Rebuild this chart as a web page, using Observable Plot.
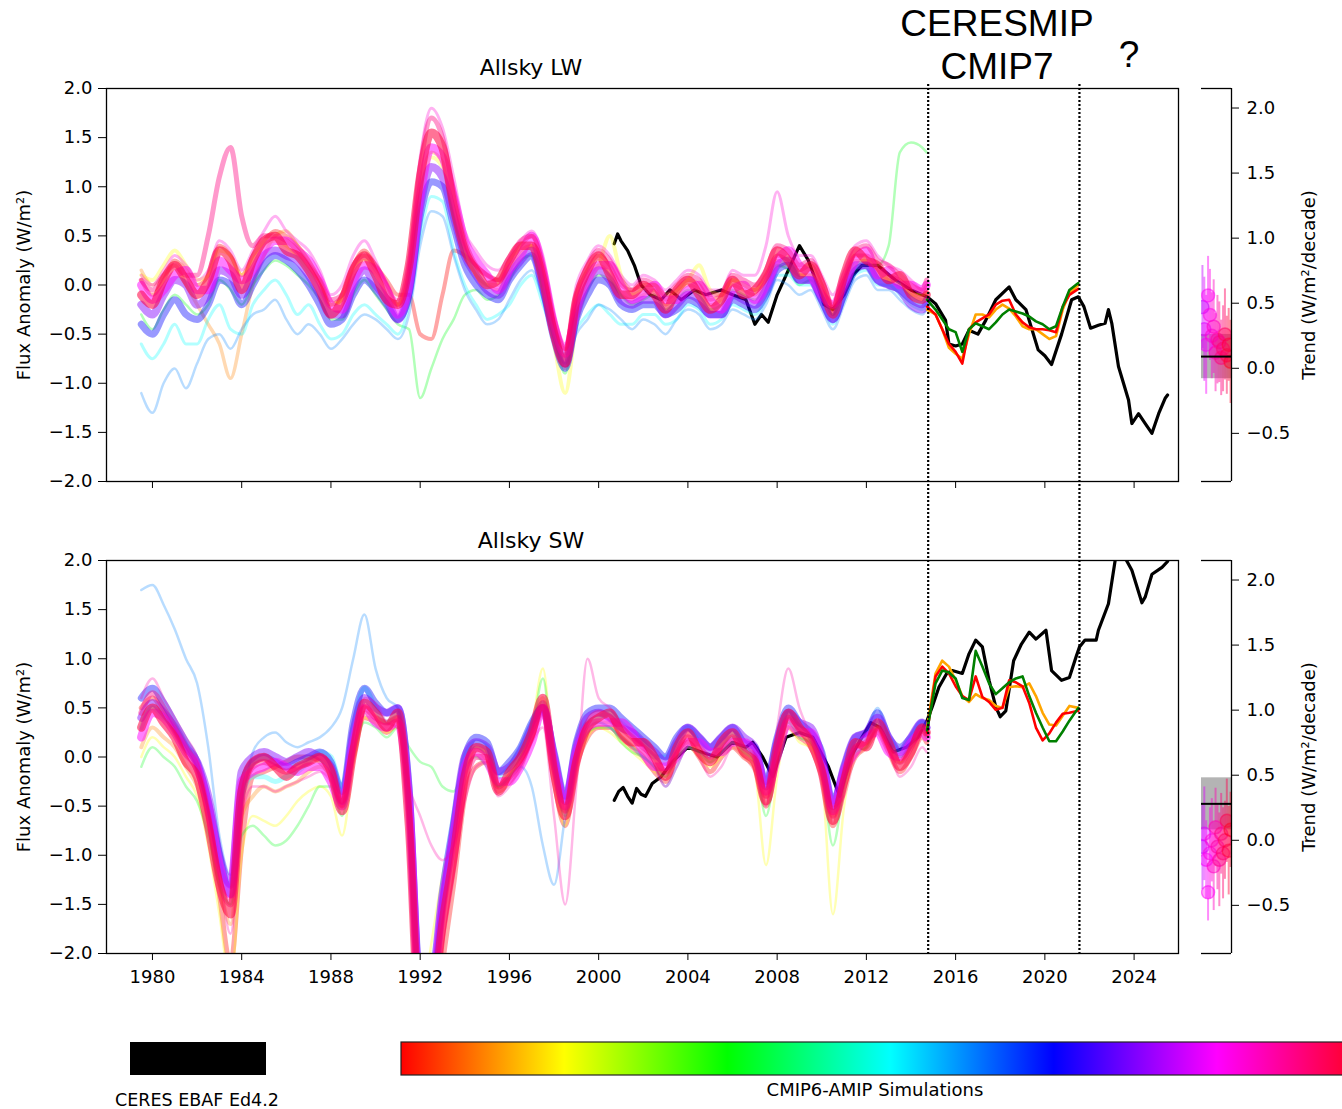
<!DOCTYPE html>
<html><head><meta charset="utf-8">
<script src="https://cdn.jsdelivr.net/npm/d3@7"></script>
<script src="https://cdn.jsdelivr.net/npm/@observablehq/plot@0.6"></script>
<style>
body{margin:0;background:#fff;}
#wrap{position:relative;width:1342px;height:1109px;overflow:hidden;background:#fff;}
#wrap svg{position:absolute;}
</style></head><body><div id="wrap"></div>
<script>
// ---------- time grid of the CMIP6-AMIP ensemble (12-month running means) ----------
const T = [1979.5,1980,1980.5,1981,1981.5,1982,1982.5,1983,1983.5,1984,
1984.5,1985,1985.5,1986,1986.5,1987,1987.5,1988,1988.5,1989,
1989.5,1990,1990.5,1991,1991.5,1992,1992.5,1993,1993.5,1994,
1994.5,1995,1995.5,1996,1996.5,1997,1997.5,1998,1998.5,1999,
1999.5,2000,2000.5,2001,2001.5,2002,2002.5,2003,2003.5,2004,
2004.5,2005,2005.5,2006,2006.5,2007,2007.5,2008,2008.5,2009,
2009.5,2010,2010.5,2011,2011.5,2012,2012.5,2013,2013.5,2014,
2014.5,2014.7];

// ---------- Allsky LW ensemble members ----------
const lwRed = [0.05,-0.1,0.05,0.25,0.15,0.0,0.1,0.4,0.3,0.1,
0.3,0.45,0.55,0.5,0.4,0.25,0.05,-0.2,-0.1,0.2,
0.35,0.2,0.05,-0.1,-0.1,-0.5,-0.55,-0.1,0.35,0.3,
0.2,0.1,0.05,0.25,0.4,0.5,0.2,-0.4,-0.65,-0.1,
0.15,0.3,0.2,0.0,-0.05,0.0,0.0,-0.15,-0.05,0.05,
0.0,-0.15,-0.1,0.05,0.0,-0.05,0.1,0.3,0.25,0.15,
0.2,0.0,-0.25,0.05,0.3,0.3,0.2,0.1,0.05,-0.05,
-0.1,-0.05];
const lwOrange = [0.15,0.0,0.1,0.2,0.0,-0.2,-0.4,-0.6,-0.95,-0.5,
0.0,0.3,0.5,0.55,0.4,0.25,0.05,-0.2,-0.15,0.15,
0.3,0.15,0.0,-0.2,0.15,1.0,1.35,1.25,0.7,0.35,
0.1,0.0,-0.05,0.15,0.35,0.4,0.05,-0.5,-0.85,-0.25,
0.05,0.2,0.1,-0.1,-0.15,-0.1,-0.05,-0.2,-0.1,0.0,
-0.05,-0.2,-0.15,0.0,-0.05,-0.1,0.05,0.25,0.2,0.1,
0.1,-0.05,-0.3,0.0,0.25,0.25,0.15,0.05,0.0,-0.1,
-0.15,-0.1];
const lwYellow = [0.1,0.05,0.2,0.35,0.2,0.05,0.1,0.35,0.3,0.1,
0.25,0.4,0.45,0.4,0.3,0.15,0.0,-0.2,-0.15,0.1,
0.25,0.1,-0.05,-0.2,0.1,0.9,1.3,1.2,0.75,0.3,
0.1,0.0,0.0,0.15,0.3,0.4,0.0,-0.6,-1.1,-0.4,
0.0,0.2,0.5,0.1,-0.1,-0.05,0.0,-0.1,-0.05,0.05,
0.2,-0.05,-0.1,0.05,0.0,-0.05,0.05,0.2,0.2,0.1,
0.1,-0.1,-0.25,0.05,0.2,0.25,0.1,0.05,0.0,-0.1,
-0.1,-0.05];
const lwGreen = [-0.3,-0.45,-0.25,-0.1,-0.2,-0.3,-0.2,0.05,-0.05,-0.2,
0.0,0.15,0.25,0.2,0.1,0.0,-0.15,-0.35,-0.35,-0.1,
0.05,-0.1,-0.25,-0.4,-0.45,-1.15,-0.85,-0.55,-0.35,-0.1,
-0.05,-0.15,-0.1,0.05,0.25,0.3,-0.05,-0.55,-0.9,-0.35,
-0.05,0.1,0.05,-0.1,-0.2,-0.15,-0.1,-0.25,-0.15,-0.05,
-0.1,-0.25,-0.2,-0.05,-0.1,-0.15,0.0,0.2,0.15,0.0,
0.05,-0.1,-0.3,-0.05,0.15,0.2,0.2,0.4,1.35,1.45,
1.4,1.35];
const lwCyan = [-0.6,-0.75,-0.6,-0.4,-0.6,-0.6,-0.35,-0.2,-0.45,-0.5,
-0.2,-0.05,0.05,-0.1,-0.3,-0.2,-0.4,-0.55,-0.5,-0.3,
-0.2,-0.3,-0.4,-0.5,-0.2,0.5,0.9,0.85,0.35,0.0,
-0.2,-0.35,-0.3,-0.2,0.0,0.1,-0.2,-0.5,-0.7,-0.45,
-0.3,-0.2,-0.3,-0.4,-0.4,-0.3,-0.3,-0.4,-0.35,-0.2,
-0.25,-0.4,-0.35,-0.2,-0.25,-0.3,-0.15,0.1,0.1,0.0,
0.0,-0.2,-0.4,-0.15,0.1,0.15,0.0,0.0,-0.1,-0.2,
-0.25,-0.2];
const lwAzure = [-1.1,-1.3,-1.0,-0.85,-1.05,-0.8,-0.55,-0.5,-0.65,-0.45,
-0.3,-0.25,-0.15,-0.35,-0.5,-0.4,-0.5,-0.65,-0.55,-0.4,
-0.3,-0.35,-0.45,-0.55,-0.3,0.4,0.75,0.7,0.3,-0.05,
-0.25,-0.4,-0.35,-0.15,0.05,0.15,-0.15,-0.55,-0.8,-0.5,
-0.35,-0.2,-0.25,-0.35,-0.45,-0.35,-0.4,-0.5,-0.35,-0.25,
-0.3,-0.45,-0.4,-0.25,-0.3,-0.35,-0.2,0.05,0.0,-0.1,
-0.05,-0.25,-0.45,-0.2,0.05,0.1,-0.05,-0.05,-0.15,-0.25,
-0.3,-0.25];
const lwBlue = [-0.4,-0.5,-0.3,-0.15,-0.3,-0.35,-0.2,0.05,0.0,-0.2,
0.0,0.2,0.3,0.25,0.15,0.0,-0.2,-0.4,-0.35,-0.1,
0.05,-0.05,-0.2,-0.35,-0.1,0.7,1.05,1.0,0.6,0.2,
0.0,-0.1,-0.15,0.05,0.2,0.3,-0.05,-0.55,-0.85,-0.35,
-0.1,0.05,0.0,-0.2,-0.25,-0.2,-0.2,-0.3,-0.25,-0.15,
-0.2,-0.3,-0.3,-0.15,-0.2,-0.25,-0.1,0.15,0.2,0.05,
0.05,-0.15,-0.35,-0.1,0.15,0.2,0.05,0.0,-0.05,-0.15,
-0.2,-0.15];
const lwViolet = [-0.2,-0.3,-0.1,0.05,0.0,-0.2,-0.1,0.15,0.1,-0.1,
0.1,0.3,0.35,0.3,0.25,0.1,-0.1,-0.3,-0.3,0.0,
0.15,0.0,-0.15,-0.35,-0.05,0.8,1.2,1.1,0.7,0.3,
0.1,-0.05,-0.1,0.1,0.25,0.35,0.0,-0.5,-0.8,-0.3,
0.0,0.15,0.05,-0.15,-0.2,-0.15,-0.15,-0.3,-0.2,-0.1,
-0.15,-0.3,-0.3,-0.1,-0.15,-0.2,-0.05,0.2,0.25,0.05,
0.05,-0.15,-0.35,-0.05,0.2,0.2,0.05,0.0,-0.05,-0.2,
-0.25,-0.2];
const lwMagenta = [0.0,-0.15,-0.05,0.1,0.15,-0.05,-0.05,0.25,0.15,0.05,
0.15,0.35,0.45,0.45,0.35,0.25,0.05,-0.2,-0.25,0.05,
0.2,0.15,-0.05,-0.3,0.0,0.9,1.4,1.3,0.9,0.45,
0.25,0.1,-0.05,0.15,0.3,0.5,0.15,-0.4,-0.7,-0.25,
0.05,0.2,0.2,0.0,-0.15,-0.1,0.0,-0.15,-0.15,-0.05,
0.0,-0.15,-0.25,-0.05,0.0,-0.15,0.0,0.25,0.35,0.2,
0.1,-0.1,-0.2,0.0,0.25,0.35,0.1,0.15,0.0,0.0,
-0.05,0.0];
const lwOrchid = [0.1,0.0,0.15,0.3,0.2,0.05,0.15,0.45,0.35,0.15,
0.35,0.55,0.7,0.55,0.45,0.35,0.15,-0.1,0.0,0.3,
0.45,0.25,0.0,-0.15,0.3,1.3,1.8,1.6,1.1,0.55,
0.35,0.2,0.15,0.3,0.45,0.55,0.3,-0.3,-0.6,0.0,
0.25,0.4,0.3,0.1,0.0,0.1,0.05,-0.05,0.05,0.15,
0.1,-0.05,-0.05,0.15,0.1,0.1,0.4,0.95,0.5,0.3,
0.3,0.1,-0.1,0.15,0.4,0.45,0.3,0.2,0.15,0.05,
-0.05,0.0];
const lwPink = [0.05,-0.05,0.1,0.2,0.1,0.1,0.5,1.1,1.4,0.7,
0.4,0.5,0.5,0.45,0.35,0.2,0.05,-0.15,-0.1,0.2,
0.3,0.2,0.0,-0.2,0.2,1.2,1.7,1.5,0.95,0.45,
0.2,0.1,0.05,0.25,0.45,0.5,0.2,-0.35,-0.65,-0.1,
0.2,0.35,0.25,0.05,-0.05,0.05,0.0,-0.1,0.0,0.1,
0.05,-0.1,-0.1,0.1,0.05,0.0,0.15,0.4,0.35,0.2,
0.25,0.05,-0.2,0.1,0.35,0.4,0.25,0.2,0.1,0.0,
-0.05,0.05];
const lwCrimson = [-0.1,-0.2,0.05,0.2,0.05,-0.1,0.05,0.35,0.25,-0.05,
0.25,0.45,0.5,0.35,0.3,0.15,-0.05,-0.3,-0.15,0.15,
0.3,0.1,-0.15,-0.2,0.2,1.1,1.55,1.4,0.8,0.35,
0.15,0.0,0.05,0.25,0.4,0.4,0.05,-0.5,-0.8,-0.15,
0.15,0.3,0.1,-0.1,-0.1,0.0,-0.1,-0.25,-0.05,0.05,
-0.1,-0.25,-0.15,0.05,-0.1,-0.05,0.1,0.35,0.25,0.1,
0.2,0.0,-0.3,0.1,0.35,0.25,0.2,0.05,0.1,-0.1,
-0.15,-0.1];

// ---------- Allsky SW ensemble members ----------
const swRed = [0.5,0.6,0.45,0.25,0.05,-0.15,-0.6,-1.4,-2.1,-0.9,
-0.2,-0.15,-0.1,-0.05,0.0,0.0,-0.05,-0.2,-0.5,0.0,
0.4,0.35,0.25,0.35,-0.5,-2.6,-2.8,-2.1,-1.3,-0.4,
-0.1,-0.05,-0.35,-0.25,-0.1,0.2,0.45,-0.25,-0.7,-0.1,
0.2,0.3,0.3,0.2,0.1,0.0,-0.15,-0.25,0.0,0.15,
0.0,-0.15,0.0,0.1,0.0,-0.1,-0.5,-0.05,0.3,0.2,
0.1,-0.2,-0.7,-0.3,0.0,0.1,0.25,0.05,-0.15,0.0,
0.2,0.15];
const swOrange = [0.1,0.3,0.2,0.1,-0.1,-0.3,-0.7,-1.3,-1.7,-0.6,
-0.4,-0.3,-0.35,-0.3,-0.25,-0.15,-0.1,-0.2,-0.5,0.0,
0.45,0.4,0.35,0.4,-0.6,-2.5,-2.4,-1.6,-0.9,-0.2,
0.1,0.05,-0.3,-0.15,0.05,0.3,0.6,-0.1,-0.55,0.0,
0.25,0.35,0.35,0.2,0.1,0.05,-0.1,-0.15,0.05,0.15,
0.05,-0.05,0.05,0.15,0.05,-0.05,-0.4,0.0,0.35,0.25,
0.15,-0.1,-0.6,-0.2,0.1,0.15,0.3,0.1,-0.05,0.1,
0.25,0.2];
const swYellow = [0.0,0.2,0.1,0.0,-0.2,-0.4,-0.9,-1.6,-2.3,-1.0,
-0.6,-0.65,-0.7,-0.6,-0.45,-0.35,-0.3,-0.4,-0.8,-0.1,
0.4,0.35,0.25,0.3,-0.8,-2.6,-1.9,-1.2,-0.7,-0.1,
0.05,-0.05,-0.3,-0.2,0.0,0.3,0.9,-0.2,-0.7,-0.1,
0.2,0.3,0.25,0.15,0.05,-0.05,-0.15,-0.2,0.0,0.1,
0.0,-0.1,0.0,0.1,0.0,-0.15,-1.1,-0.2,0.3,0.15,
0.1,-0.2,-1.6,-0.5,0.0,0.1,0.3,0.1,-0.05,0.1,
0.3,0.25];
const swGreen = [-0.1,0.1,0.0,-0.1,-0.3,-0.45,-0.8,-1.3,-1.5,-0.8,
-0.7,-0.8,-0.9,-0.85,-0.7,-0.5,-0.3,-0.3,-0.6,0.0,
0.35,0.3,0.2,0.3,0.1,-0.05,-0.1,-0.3,-0.35,-0.1,
0.0,-0.1,-0.3,-0.2,0.0,0.25,0.8,-0.15,-0.6,-0.05,
0.25,0.3,0.3,0.15,0.05,0.0,-0.1,-0.2,0.0,0.1,
0.05,-0.05,0.05,0.15,0.05,-0.05,-0.6,0.0,0.35,0.2,
0.15,-0.15,-0.9,-0.3,0.05,0.1,0.3,0.15,0.0,0.1,
0.3,0.25];
const swCyan = [0.3,0.5,0.4,0.3,0.1,-0.1,-0.5,-1.1,-1.3,-0.4,
-0.2,-0.2,-0.25,-0.2,-0.15,-0.05,0.05,0.0,-0.3,0.3,
0.7,0.5,0.35,0.45,-0.5,-2.4,-2.2,-1.3,-0.6,0.0,
0.15,0.1,-0.2,-0.1,0.1,0.35,0.55,0.0,-0.45,0.1,
0.35,0.4,0.45,0.35,0.25,0.15,0.0,0.0,0.15,0.3,
0.15,0.05,0.15,0.25,0.1,0.0,-0.3,0.15,0.45,0.3,
0.2,-0.05,-0.55,-0.15,0.15,0.2,0.35,0.2,0.05,0.2,
0.35,0.3];
const swAzure = [1.7,1.75,1.55,1.3,1.0,0.75,0.1,-0.8,-1.2,-0.5,
0.05,0.2,0.25,0.15,0.1,0.15,0.2,0.3,0.5,1.0,
1.45,0.9,0.6,0.5,-0.4,-2.3,-2.2,-1.3,-0.7,-0.05,
0.1,0.0,-0.3,-0.2,-0.1,-0.3,-0.9,-1.3,-0.6,0.0,
0.3,0.35,0.3,0.2,0.1,0.0,-0.1,-0.3,-0.1,0.1,
0.05,0.0,0.1,0.2,0.1,0.0,-0.3,0.1,0.4,0.25,
0.2,-0.05,-0.5,-0.15,0.1,0.25,0.5,0.2,0.0,0.15,
0.3,0.2];
const swBlue = [0.6,0.7,0.55,0.35,0.15,-0.05,-0.45,-1.0,-1.4,-0.3,
-0.05,0.0,-0.05,-0.1,-0.05,0.0,0.05,-0.05,-0.35,0.35,
0.7,0.55,0.45,0.5,-0.3,-2.3,-2.4,-1.5,-0.7,0.0,
0.2,0.15,-0.15,-0.05,0.1,0.35,0.5,0.05,-0.4,0.15,
0.45,0.5,0.5,0.4,0.3,0.2,0.1,0.0,0.2,0.3,
0.2,0.1,0.2,0.3,0.15,0.1,-0.25,0.2,0.5,0.35,
0.25,0.05,-0.45,-0.1,0.2,0.25,0.45,0.2,0.1,0.2,
0.35,0.3];
const swViolet = [0.4,0.55,0.45,0.3,0.1,-0.05,-0.4,-1.0,-1.3,-0.15,
0.0,0.05,0.0,-0.05,0.0,0.05,0.0,-0.1,-0.45,0.25,
0.6,0.5,0.45,0.5,-0.4,-2.4,-2.3,-1.4,-0.7,0.0,
0.15,0.1,-0.15,-0.1,0.05,0.3,0.5,0.0,-0.45,0.1,
0.4,0.45,0.4,0.3,0.25,0.15,0.05,-0.05,0.15,0.3,
0.2,0.1,0.2,0.3,0.2,0.1,-0.3,0.15,0.45,0.35,
0.3,0.0,-0.5,-0.1,0.2,0.25,0.4,0.2,0.05,0.2,
0.35,0.3];
const swMagenta = [0.2,0.45,0.4,0.25,0.05,-0.1,-0.5,-1.1,-1.4,-0.25,
-0.15,-0.1,-0.05,-0.1,-0.15,-0.1,-0.1,-0.25,-0.5,0.15,
0.5,0.35,0.3,0.35,-0.5,-2.5,-2.4,-1.5,-0.8,-0.1,
0.05,-0.05,-0.25,-0.25,-0.1,0.15,0.5,-0.05,-0.5,0.05,
0.3,0.35,0.35,0.35,0.25,0.05,-0.1,-0.1,0.0,0.15,
0.15,0.05,0.05,0.15,0.15,0.05,-0.35,0.0,0.35,0.25,
0.25,-0.05,-0.55,-0.15,0.05,0.2,0.25,0.05,0.0,0.15,
0.25,0.2];
const swOrchid = [0.6,0.8,0.6,0.4,0.2,0.0,-0.5,-1.2,-1.8,-0.6,
-0.3,-0.3,-0.35,-0.3,-0.25,-0.2,-0.15,-0.25,-0.5,0.0,
0.6,0.55,0.35,0.3,-0.3,-0.6,-0.9,-1.05,-0.9,-0.45,
-0.1,-0.05,-0.4,-0.3,-0.1,0.15,0.3,-0.6,-1.5,-0.3,
1.0,0.6,0.5,0.35,0.2,0.1,-0.1,-0.3,-0.1,0.1,
0.0,-0.2,-0.1,0.1,0.0,-0.15,-0.5,0.3,0.9,0.5,
0.2,-0.2,-0.5,-0.4,0.0,0.1,0.3,0.1,-0.2,-0.1,
0.1,0.05];
const swPink = [0.45,0.65,0.5,0.3,0.1,-0.1,-0.6,-1.25,-1.5,-0.45,
-0.1,-0.05,-0.1,-0.15,-0.1,-0.05,0.0,-0.1,-0.45,0.1,
0.5,0.4,0.35,0.4,-0.55,-2.6,-2.5,-1.8,-1.1,-0.3,
0.0,0.0,-0.3,-0.2,-0.05,0.2,0.55,-0.1,-0.55,0.0,
0.35,0.45,0.4,0.3,0.2,0.1,0.0,-0.15,0.05,0.2,
0.1,0.0,0.1,0.2,0.1,0.0,-0.4,0.05,0.4,0.3,
0.2,-0.1,-0.6,-0.2,0.1,0.15,0.3,0.1,-0.05,0.1,
0.3,0.25];
const swCrimson = [0.3,0.5,0.35,0.2,-0.05,-0.2,-0.7,-1.3,-1.6,-0.35,
-0.05,0.0,-0.1,-0.2,-0.1,-0.05,0.0,-0.15,-0.55,0.05,
0.55,0.45,0.3,0.45,-0.7,-2.7,-2.6,-1.7,-1.0,-0.2,
0.1,0.05,-0.35,-0.15,0.0,0.25,0.6,-0.15,-0.6,-0.05,
0.3,0.4,0.45,0.25,0.15,0.15,0.0,-0.2,0.1,0.25,
0.05,-0.05,0.15,0.25,0.05,-0.05,-0.45,0.1,0.45,0.3,
0.15,-0.15,-0.65,-0.25,0.15,0.1,0.35,0.15,-0.1,0.05,
0.3,0.25];

// ---------- CERES EBAF Ed4.2 (black) ----------
const ceresLwT = [2000.7,2000.85,2001.0,2001.3,2001.6,2001.9,2002.3,2002.8,2003.2,2003.7,2004.3,2004.8,2005.5,2006.0,2006.6,2007.0,2007.3,2007.6,2008.0,2008.6,2009.0,2009.4,2009.8,2010.1,2010.5,2011.0,2011.4,2011.8,2012.5,2013.3,2014.0,2014.72,2015.1,2015.55,2015.7,2016.0,2016.3,2016.6,2017.0,2017.35,2017.8,2018.4,2018.7,2019.15,2019.7,2020.0,2020.3,2020.75,2021.2,2021.5,2021.75,2022.05,2022.4,2022.7,2022.85,2023.0,2023.3,2023.75,2023.9,2024.2,2024.5,2024.8,2025.1,2025.4,2025.5];
const ceresLw = [0.42,0.52,0.45,0.35,0.2,0.0,-0.1,-0.15,-0.05,-0.15,-0.05,-0.1,-0.05,-0.1,-0.15,-0.4,-0.3,-0.38,-0.1,0.2,0.4,0.25,0.0,-0.2,-0.25,-0.1,0.1,0.2,0.2,0.05,-0.05,-0.12,-0.19,-0.36,-0.6,-0.62,-0.6,-0.46,-0.5,-0.36,-0.15,-0.02,-0.15,-0.25,-0.66,-0.72,-0.81,-0.5,-0.15,-0.12,-0.22,-0.44,-0.41,-0.39,-0.25,-0.39,-0.83,-1.17,-1.41,-1.31,-1.41,-1.51,-1.31,-1.15,-1.12];
const ceresSwT = [2000.7,2000.9,2001.1,2001.3,2001.5,2001.7,2001.9,2002.1,2002.4,2002.8,2003.3,2004.0,2004.6,2005.3,2006.0,2006.6,2006.9,2007.35,2007.8,2008.4,2009.0,2009.6,2010.3,2010.8,2011.3,2011.8,2012.2,2012.6,2013.2,2013.8,2014.3,2014.72,2014.95,2015.25,2015.6,2015.85,2016.3,2016.6,2016.9,2017.2,2017.5,2017.8,2018.0,2018.25,2018.6,2018.95,2019.3,2019.6,2020.05,2020.3,2020.75,2021.1,2021.4,2021.55,2021.8,2022.3,2022.4,2022.85,2023.15,2023.3,2023.9,2024.35,2024.5,2024.8,2025.25,2025.5];
const ceresSw = [-0.44,-0.35,-0.31,-0.4,-0.47,-0.32,-0.38,-0.4,-0.27,-0.2,-0.05,0.1,0.05,0.0,0.15,0.1,0.15,0.0,-0.2,0.2,0.25,0.2,-0.1,-0.4,0.0,0.2,0.35,0.3,0.05,0.1,0.2,0.37,0.51,0.71,0.85,0.88,0.85,1.05,1.19,1.12,0.78,0.51,0.41,0.47,0.98,1.15,1.27,1.2,1.29,0.88,0.78,0.81,1.02,1.12,1.19,1.19,1.29,1.56,2.0,2.15,1.9,1.57,1.63,1.86,1.93,1.99];

// ---------- CERESMIP / CMIP7 runs ----------
const cmT = [2014.72,2015.1,2015.4,2015.7,2016.0,2016.3,2016.6,2016.9,2017.2,2017.5,2017.8,2018.1,2018.4,2018.7,2019.0,2019.3,2019.6,2019.9,2020.2,2020.5,2020.8,2021.1,2021.5];
const lwCmOrange = [-0.25,-0.3,-0.45,-0.64,-0.7,-0.75,-0.5,-0.3,-0.3,-0.33,-0.25,-0.2,-0.24,-0.32,-0.42,-0.45,-0.45,-0.5,-0.55,-0.52,-0.25,-0.08,0.0];
const lwCmRed = [-0.22,-0.3,-0.45,-0.6,-0.68,-0.8,-0.45,-0.38,-0.34,-0.3,-0.2,-0.16,-0.15,-0.3,-0.38,-0.43,-0.45,-0.45,-0.46,-0.48,-0.22,-0.1,-0.04];
const lwCmGreen = [-0.15,-0.25,-0.35,-0.45,-0.48,-0.68,-0.45,-0.39,-0.42,-0.45,-0.38,-0.3,-0.25,-0.27,-0.29,-0.32,-0.37,-0.4,-0.45,-0.42,-0.22,-0.05,0.02];
const swCmOrange = [0.3,0.85,0.98,0.92,0.78,0.62,0.56,0.64,0.6,0.58,0.52,0.5,0.71,0.72,0.71,0.75,0.62,0.45,0.33,0.32,0.42,0.52,0.5];
const swCmRed = [0.25,0.82,0.92,0.85,0.72,0.62,0.58,0.82,0.61,0.56,0.48,0.5,0.78,0.76,0.72,0.55,0.3,0.17,0.24,0.35,0.44,0.45,0.47];
const swCmGreen = [0.27,0.75,0.88,0.86,0.8,0.6,0.58,1.08,0.92,0.75,0.64,0.7,0.76,0.8,0.82,0.62,0.45,0.3,0.16,0.16,0.26,0.37,0.5];
const periodBounds = [2014.77, 2021.55];

// ---------- trend side panels ----------
const trendIdx = [0,1,2,3,4,5,6,7,8,9,10,11,12,13,14,15];
const trendHue = [285,292,298,302,306,310,314,318,322,326,330,334,338,342,347,352];
const lwTrend = [0.47,0.30,0.18,0.56,0.41,0.25,0.32,0.12,0.22,0.20,0.08,0.15,0.26,0.10,0.18,0.05];
const lwTrendErr = [0.32,0.40,0.38,0.30,0.35,0.33,0.36,0.30,0.34,0.31,0.29,0.33,0.35,0.30,0.28,0.32];
const swTrend = [-0.05,0.05,-0.15,-0.40,-0.10,0.00,-0.20,0.10,-0.05,-0.15,0.05,-0.10,0.00,0.15,-0.08,0.08];
const swTrendErr = [0.33,0.36,0.30,0.22,0.35,0.32,0.34,0.30,0.33,0.36,0.31,0.35,0.30,0.32,0.34,0.29];
const lwObsTrend = [0.09, -0.08, 0.26];   // value, low, high
const swObsTrend = [0.28, 0.08, 0.48];

// ---------- axes ----------
const yTicks = [-2,-1.5,-1,-0.5,0,0.5,1,1.5,2];
const xTicks = [1980,1984,1988,1992,1996,2000,2004,2008,2012,2016,2020,2024];
const trendTicks = [-0.5,0,0.5,1,1.5,2];
const xDomain = [1977.94, 2025.99];
const trendDomain = [-0.87, 2.15];

// ================= drawing =================
const wrap = document.getElementById("wrap");
const fmt1 = d3.format(".1f");
const hsl = h => `hsl(${h},100%,50%)`;
const rows = (xs, ys) => xs.map((t, i) => ({t, v: ys[i]}));
const FONT = "DejaVu Sans, sans-serif";

function place(svg, left, top) {
  svg.style.position = "absolute";
  svg.style.left = left + "px";
  svg.style.top = top + "px";
  wrap.appendChild(svg);
}

function fluxPanel(members, cT, cV, cmO, cmR, cmG, labels, mTop, mBottom) {
  const marks = [];
  marks.push(Plot.line(rows(cT, cV), {x: "t", y: "v", stroke: "#000", strokeWidth: 3.2, clip: true}));
  for (const [vals, h, op, w] of members) {
    marks.push(Plot.line(rows(T, vals), {x: "t", y: "v", stroke: hsl(h), strokeOpacity: op, strokeWidth: w, curve: "monotone-x", clip: true}));
  }
  marks.push(Plot.line(rows(cmT, cmO), {x: "t", y: "v", stroke: "#ffa500", strokeWidth: 2.6, clip: true}));
  marks.push(Plot.line(rows(cmT, cmR), {x: "t", y: "v", stroke: "#ff0000", strokeWidth: 2.6, clip: true}));
  marks.push(Plot.line(rows(cmT, cmG), {x: "t", y: "v", stroke: "#008000", strokeWidth: 2.6, clip: true}));
  marks.push(Plot.frame({stroke: "#000", strokeWidth: 1.3}));
  marks.push(Plot.axisY({ticks: yTicks, tickFormat: fmt1, tickSize: 8, tickPadding: 6, fontSize: 18, label: null}));
  marks.push(Plot.axisX({ticks: xTicks, tickFormat: labels ? d3.format("d") : () => "", tickSize: 7, tickPadding: 10, fontSize: 18, label: null}));
  return Plot.plot({
    width: 1200, height: mTop + 393 + mBottom,
    marginLeft: 106, marginRight: 22, marginTop: mTop, marginBottom: mBottom,
    x: {domain: xDomain, label: null},
    y: {domain: [-2, 2], label: null},
    style: {background: "transparent", overflow: "visible", fontFamily: FONT, fontSize: "18px", color: "#000"},
    marks
  });
}

function trendPanel(vals, errs, obs, mTop, mBottom) {
  const data = trendIdx.map((i, k) => ({i, v: vals[k], e: errs[k], c: hsl(trendHue[k])}));
  return Plot.plot({
    width: 1342, height: mTop + 393 + mBottom,
    marginLeft: 1201, marginRight: 111, marginTop: mTop, marginBottom: mBottom,
    x: {domain: [-0.5, 15.5], axis: null},
    y: {domain: trendDomain, label: null},
    color: {type: "identity"},
    style: {background: "transparent", overflow: "visible", fontFamily: FONT, fontSize: "18px", color: "#000"},
    marks: [
      Plot.rect([{a: -0.5, b: 15.5, lo: obs[1], hi: obs[2]}], {x1: "a", x2: "b", y1: "lo", y2: "hi", fill: "#8c8c8c", fillOpacity: 0.65}),
      Plot.ruleX(data, {x: "i", y1: d => d.v - d.e, y2: d => d.v + d.e, stroke: "c", strokeOpacity: 0.45, strokeWidth: 2, clip: true}),
      Plot.dot(data, {x: "i", y: "v", r: 6.5, fill: "c", fillOpacity: 0.35, stroke: "c", strokeOpacity: 0.5, clip: true}),
      Plot.ruleY([obs[0]], {stroke: "#000", strokeWidth: 2}),
      Plot.ruleY(trendDomain, {stroke: "#000", strokeWidth: 1.3}),
      Plot.ruleX([15.5], {stroke: "#000", strokeWidth: 1.3}),
      Plot.axisY({anchor: "right", ticks: trendTicks, tickFormat: fmt1, tickSize: 7, tickPadding: 8, fontSize: 18, label: null})
    ]
  });
}

// annotation / legend layer (behind the plots)
const ann = d3.create("svg").attr("width", 1342).attr("height", 1109)
  .style("position", "absolute").style("left", "0px").style("top", "0px");
function txt(x, y, s, size, family, rot) {
  const t = ann.append("text").attr("text-anchor", "middle").attr("font-size", size)
    .attr("font-family", family || FONT).attr("fill", "#000").text(s);
  if (rot) t.attr("transform", `translate(${x},${y}) rotate(-90)`);
  else t.attr("x", x).attr("y", y);
}
txt(997, 36, "CERESMIP", 37, "Liberation Sans, Arial, sans-serif");
txt(997, 79, "CMIP7", 37, "Liberation Sans, Arial, sans-serif");
txt(1129, 67, "?", 37, "Liberation Sans, Arial, sans-serif");
txt(531, 75, "Allsky LW", 22);
txt(531, 548, "Allsky SW", 22);
txt(30, 285, "Flux Anomaly (W/m²)", 18, null, true);
txt(30, 757, "Flux Anomaly (W/m²)", 18, null, true);
txt(1315, 285, "Trend (W/m²/decade)", 18, null, true);
txt(1315, 757, "Trend (W/m²/decade)", 18, null, true);
// legend: CERES black patch and CMIP6 rainbow colour bar
const grad = ann.append("defs").append("linearGradient").attr("id", "hsvbar").attr("x1", "0%").attr("x2", "100%");
for (let h = 0; h <= 346; h += 10) grad.append("stop").attr("offset", (h / 346 * 100) + "%").attr("stop-color", hsl(h));
grad.append("stop").attr("offset", "100%").attr("stop-color", hsl(346));
ann.append("rect").attr("x", 130).attr("y", 1042).attr("width", 136).attr("height", 33).attr("fill", "#000");
ann.append("rect").attr("x", 401).attr("y", 1042).attr("width", 941).attr("height", 33).attr("fill", "url(#hsvbar)");
ann.append("rect").attr("x", 401).attr("y", 1042).attr("width", 950).attr("height", 33).attr("fill", "none").attr("stroke", "#222").attr("stroke-width", 1.2);
txt(197, 1106, "CERES EBAF Ed4.2", 17.5);
txt(875, 1096, "CMIP6-AMIP Simulations", 18);
wrap.appendChild(ann.node());

// [values, hue, opacity, width]
const lwMembers = [
  [lwRed, 0, 0.35, 4], [lwOrange, 30, 0.3, 3.5], [lwYellow, 60, 0.3, 4], [lwGreen, 125, 0.3, 2.5],
  [lwCyan, 180, 0.3, 3], [lwAzure, 210, 0.28, 2.5], [lwBlue, 240, 0.4, 7], [lwViolet, 270, 0.45, 8],
  [lwMagenta, 300, 0.5, 8.5], [lwOrchid, 310, 0.3, 3], [lwPink, 330, 0.4, 5], [lwCrimson, 345, 0.55, 8.5]
];
const swMembers = [
  [swRed, 0, 0.35, 5], [swOrange, 30, 0.3, 4], [swYellow, 60, 0.3, 2.5], [swGreen, 125, 0.28, 2.5],
  [swCyan, 180, 0.3, 5], [swAzure, 210, 0.28, 2.5], [swBlue, 240, 0.4, 7], [swViolet, 270, 0.45, 8],
  [swMagenta, 300, 0.5, 8.5], [swOrchid, 320, 0.28, 2.5], [swPink, 330, 0.4, 6], [swCrimson, 345, 0.55, 8.5]
];

place(fluxPanel(lwMembers, ceresLwT, ceresLw, lwCmOrange, lwCmRed, lwCmGreen, false, 88, 20), 0, 0);
place(fluxPanel(swMembers, ceresSwT, ceresSw, swCmOrange, swCmRed, swCmGreen, true, 90, 40), 0, 470);
place(trendPanel(lwTrend, lwTrendErr, lwObsTrend, 88, 20), 0, 0);
place(trendPanel(swTrend, swTrendErr, swObsTrend, 90, 40), 0, 470);

// dotted period boundaries spanning both panels
place(Plot.plot({
  width: 1200, height: 963, marginLeft: 106, marginRight: 22, marginTop: 84, marginBottom: 10,
  x: {domain: xDomain, axis: null}, y: {domain: [0, 1], axis: null},
  style: {background: "transparent", overflow: "visible"},
  marks: [Plot.ruleX(periodBounds, {stroke: "#000", strokeWidth: 2.2, strokeDasharray: "2,2"})]
}), 0, 0);
</script></body></html>
